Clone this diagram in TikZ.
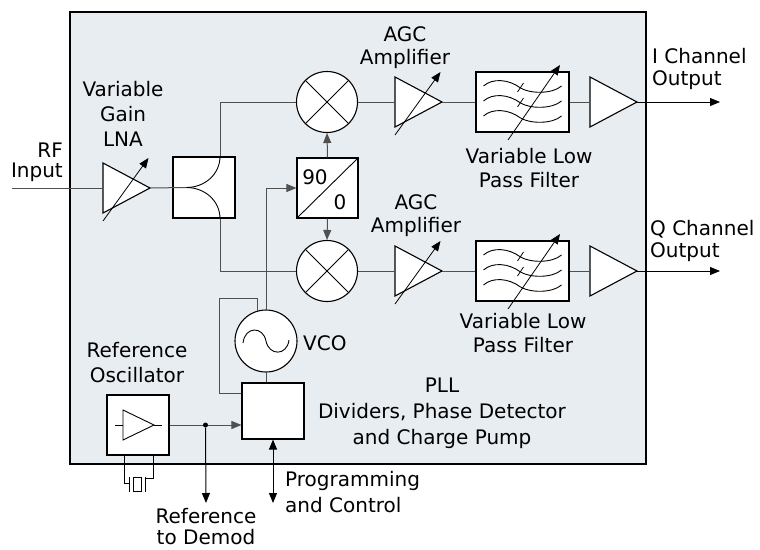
\documentclass[tikz,border=0pt]{standalone}
\usepackage{fontspec}
\setmainfont{DejaVu Sans}
\usetikzlibrary{positioning,calc,arrows.meta}
\tikzset{>={Triangle[length=10pt,width=8pt]}}
\definecolor{panel}{RGB}{232,237,242}
\definecolor{wirec}{RGB}{80,80,80}
\tikzset{
  block/.style={draw,fill=white,line width=1.1pt,inner sep=0pt},
  wire/.style={draw=wirec,line width=1pt},
  lbl/.style={inner sep=0pt,align=center,font=\fontsize{20}{23}\selectfont},
}
% amplifier triangle, with its in and out points
\def\amp#1#2#3{
  \draw[block,line join=miter] (#2-23.5,#3-25) -- (#2+23.5,#3) -- (#2-23.5,#3+25) -- cycle;
  \coordinate (#1-in) at (#2-23.5,#3);
  \coordinate (#1-out) at (#2+23.5,#3);
}
\def\vary#1#2{
  \draw[->,line width=0.8pt] (#1-23.5,#2+33) -- (#1+22,#2-30);
}
\def\lpf#1{
  \begin{scope}[shift={(#1.center)}]
  \foreach \dy in {-15,0,15}
    \draw[line width=0.9pt] (-39,\dy-1) .. controls (-30,\dy-9) and (-14,\dy-8) .. (-2,\dy+1)
      .. controls (8,\dy+7) and (30,\dy+7) .. (39,\dy-1);
  \foreach \dy in {-15,0}
    \draw[line width=0.8pt] (-5,\dy+5) -- (1,\dy-4);
  \draw[->,line width=0.8pt] (-14.5,38) -- (37.5,-37);
  \end{scope}
}

\begin{document}
\begin{tikzpicture}[x=1pt,y=-1pt]
\useasboundingbox (0,0) rectangle (760,549);
\draw[line width=2.2pt,fill=panel] (70,12) rectangle (646,464);
% blocks
\node[block,minimum width=62pt,minimum height=61pt] (split) at (204,187.5) {};
\node[block,circle,minimum size=61pt] (mixI) at (327,102) {};
\node[block,circle,minimum size=61pt] (mixQ) at (327,271) {};
\node[block,minimum width=61pt,minimum height=60pt] (ph) at (327.5,188) {};
\node[block,circle,minimum size=62pt] (vco) at (266,341) {};
\node[block,minimum width=62pt,minimum height=56pt] (pll) at (273,411) {};
\node[block,minimum width=62pt,minimum height=60pt] (osc) at (138,425) {};
\node[block,minimum width=93pt,minimum height=60pt] (lpfI) at (522.5,102) {};
\node[block,minimum width=93pt,minimum height=60pt] (lpfQ) at (522.5,271) {};
\amp{lna}{126.5}{188}
\amp{agcI}{418.5}{102}
\amp{agcQ}{418.5}{271}
\amp{outI}{613.5}{102}
\amp{outQ}{613.5}{271}
\coordinate (rfin) at (12,188);
\coordinate (Iout) at (720,102);
\coordinate (Qout) at (720,271);
\coordinate (demod) at (206,503);
\coordinate (prog) at (273,503);
\coordinate (fb) at (219,298);
\coordinate (split-c) at ($(split.west)+(14,0)$);
\coordinate (split-top) at ($(split.north)+(16,0)$);
\coordinate (split-bot) at ($(split.south)+(16,0)$);
% block insides
\draw[line width=0.9pt] (mixI.north west) -- (mixI.south east) (mixI.north east) -- (mixI.south west);
\draw[line width=0.9pt] (mixQ.north west) -- (mixQ.south east) (mixQ.north east) -- (mixQ.south west);
\draw[line width=0.9pt] (ph.south west) -- (ph.north east);
\node[lbl] (ph90) at (315,177) {90};
\node[lbl] (ph0) at (340,202) {0};
\draw[line width=0.9pt,shift={(vco.center)}] (-23,2) .. controls (-21,-15) and (-3,-15) .. (0,0)
  .. controls (3,15) and (21,15) .. (23,-1);
\begin{scope}[shift={(osc.center)}]
  \draw[line width=0.9pt] (-15,-15) -- (16,0) -- (-15,15) -- cycle;
  \draw[line width=0.9pt] (-23,0) -- (-15,0) (16,0) -- (24,0);
\end{scope}
\lpf{lpfI}
\lpf{lpfQ}
% signal path
\draw[wire] (rfin) -- (lna-in);
\draw[wire] (lna-out) -- (split-c);
\draw[line width=0.9pt] (split-c) .. controls +(18,0) and +(0,18) .. (split-top);
\draw[line width=0.9pt] (split-c) .. controls +(18,0) and +(0,-18) .. (split-bot);
\draw[wire] (split-top) |- (mixI.west);
\draw[wire] (split-bot) |- (mixQ.west);
\draw[wire] (mixI.east) -- (agcI-in) (agcI-out) -- (lpfI.west) (lpfI.east) -- (outI-in);
\draw[wire] (mixQ.east) -- (agcQ-in) (agcQ-out) -- (lpfQ.west) (lpfQ.east) -- (outQ-in);
\draw[->,line width=1pt] (outI-out) -- (Iout);
\draw[->,line width=1pt] (outQ-out) -- (Qout);
\draw[wire,->] (ph.north) -- (mixI.south);
\draw[wire,->] (ph.south) -- (mixQ.north);
\vary{126.5}{188}
\vary{418.5}{102}
\vary{418.5}{271}
% PLL loop
\draw[wire,->] (vco.north) |- (ph.west);
\draw[wire] (vco.105) |- (fb) |- ($(pll.north west)!0.2!(pll.south west)$);
\draw[wire] (vco.south) -- (vco.south |- pll.north);
\draw[wire,->] (osc.east) -- (osc.east -| pll.west);
\node[circle,fill=black,inner sep=0pt,minimum size=5pt] (tap) at ($(osc.east)!0.5!(osc.east -| pll.west)$) {};
\draw[->,line width=1pt] (tap) -- (demod);
\draw[<->,line width=1pt] (pll.south) -- (prog);
% crystal
\begin{scope}[shift={(osc.south)},line width=0.9pt]
  \draw (-14,0) -- (-14,28) -- (-9,28);
  \draw (-9,21) -- (-9,36) (7,21) -- (7,36);
  \draw (-5,22) rectangle (3,36);
  \draw (7,23) -- (15,23) -- (15,0);
\end{scope}
% labels
\node[lbl,anchor=east,align=right,font=\fontsize{20}{20}\selectfont] (rflbl) at (63,162) {RF\\Input};
\node[lbl,font=\fontsize{20}{25}\selectfont] (lnalbl) at (123,114) {Variable\\Gain\\LNA};
\node[lbl] (agcIlbl) at (405,48) {AGC\\Amplifier};
\node[lbl] (agcQlbl) at (416,216) {AGC\\Amplifier};
\node[lbl,anchor=west,align=left,font=\fontsize{20}{22}\selectfont] (Ilbl) at (652,69) {I Channel\\Output};
\node[lbl,anchor=west,align=left,font=\fontsize{20}{22}\selectfont] (Qlbl) at (650,241) {Q Channel\\Output};
\node[lbl,font=\fontsize{20}{24}\selectfont] (lpfIlbl) at (529,168) {Variable Low\\Pass Filter};
\node[lbl,font=\fontsize{20}{24}\selectfont] (lpfQlbl) at (523,333) {Variable Low\\Pass Filter};
\node[lbl,anchor=west] (vcolbl) at (303,343) {VCO};
\node[lbl,font=\fontsize{20}{25}\selectfont] (osclbl) at (137,363) {Reference\\Oscillator};
\node[lbl,font=\fontsize{20}{26}\selectfont] (plllbl) at (442,413) {PLL\\Dividers, Phase Detector\\and Charge Pump};
\node[lbl,anchor=west,align=left,font=\fontsize{20}{26}\selectfont] (proglbl) at (285,492) {Programming\\and Control};
\node[lbl,font=\fontsize{20}{21}\selectfont] (demodlbl) at (206,527) {Reference\\to Demod};
\end{tikzpicture}
\end{document}
